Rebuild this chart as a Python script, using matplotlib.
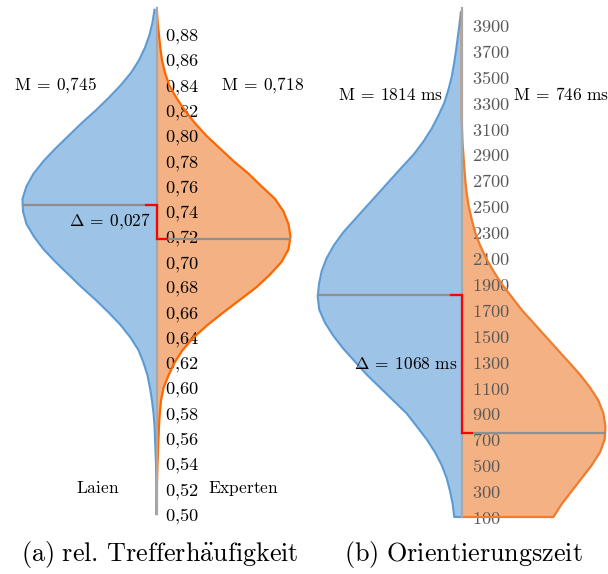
import numpy as np
import matplotlib
matplotlib.use("Agg")
import matplotlib.pyplot as plt
from matplotlib.ticker import FuncFormatter

plt.rcParams['mathtext.fontset'] = 'cm'

# ---------------- data: panel (a) rel. Trefferhäufigkeit ----------------
a_values = np.round(np.arange(0.50, 0.9001, 0.01), 2)
a_laien = [0, 0, 0.1, 0.3, 0.5, 1, 1.5, 2, 3, 4.5, 6.5, 9, 13, 18, 26, 36, 48, 61, 75, 88,
           101, 113, 122.5, 130, 133.5, 134, 130, 123, 113, 101, 88, 75, 61, 48, 36, 25.5,
           17.5, 11.5, 7, 4, 2]
a_experten = [0, 0.1, 0.3, 0.6, 1, 1.5, 2, 2.5, 3.3, 4.5, 7, 12, 18, 26, 37, 51, 67, 83.5,
              100, 113.5, 125, 132, 134, 132, 127, 118.5, 105, 92, 77, 63.5, 50, 38.5, 28.5,
              20, 12.8, 8.5, 5.5, 3.8, 2.5, 1.2, 0.3]
a_mean_laien = 0.745
a_mean_experten = 0.718
a_ticks = np.round(np.arange(0.50, 0.8801, 0.02), 2)

# ---------------- data: panel (b) Orientierungszeit ----------------
b_values = np.arange(100, 4001, 100)
b_laien = [7.4, 9, 11.7, 15, 20, 26.7, 35, 45, 55, 68.4, 81.7, 95, 106.7, 118.4, 128.4,
           136.7, 142.4, 144, 142.7, 140, 135, 127.7, 118.3, 106.7, 95, 83.3, 71.7, 60, 48,
           38.3, 30, 23.3, 17.3, 13.3, 10, 7.7, 5.7, 4, 2.3, 0.8]
b_experten = [91.7, 100, 110, 120, 130, 138.3, 143, 143.7, 141.7, 136.7, 128.3, 118.3, 106.7,
              95, 83.3, 71.7, 60, 50, 40, 31.7, 24.3, 18.3, 13.3, 10, 7, 5, 3.6, 2.6, 1.7,
              0.8, 0.3, 0, 0, 0, 0, 0, 0, 0, 0, 0]
b_mean_laien = 1814
b_mean_experten = 746
b_ticks = np.arange(100, 3901, 200)

BLUE_FILL, BLUE_EDGE = '#9dc3e6', '#5b9bd5'
ORANGE_FILL = '#f4b183'
GRAY_MEAN, GRAY_AXIS = '#8f8f8f', '#a8a8a8'

W, H = 608, 574
fig = plt.figure(figsize=(W / 100, H / 100), dpi=100)


def rect(x0, x1, y0, y1):
    return [x0 / W, 1 - y1 / H, (x1 - x0) / W, (y1 - y0) / H]


def draw_panel(ax, y, laien, experten, m_l, m_e, orange_edge, ticks, fmt, tick_color,
               pad, ybounds):
    y = np.asarray(y, dtype=float)
    laien = np.asarray(laien, dtype=float)
    experten = np.asarray(experten, dtype=float)
    ax.fill_betweenx(y, -laien, 0, color=BLUE_FILL, lw=0, zorder=1)
    ax.fill_betweenx(y, 0, experten, color=ORANGE_FILL, lw=0, zorder=1)
    ax.plot(np.r_[0, -laien], np.r_[y[0], y], color=BLUE_EDGE, lw=1.5, zorder=2,
            solid_joinstyle='round')
    ax.plot(np.r_[0, experten], np.r_[y[0], y], color=orange_edge, lw=1.6, zorder=2,
            solid_joinstyle='round')
    # mean lines
    wl = np.interp(m_l, y, laien)
    we = np.interp(m_e, y, experten)
    ax.plot([-wl, 0], [m_l, m_l], color=GRAY_MEAN, lw=1.6, zorder=3)
    ax.plot([0, we], [m_e, m_e], color=GRAY_MEAN, lw=1.6, zorder=3)
    # difference bracket
    ax.plot([-10.5, 0, 0, 10], [m_l, m_l, m_e, m_e], color='#ff0000', lw=1.6, zorder=4,
            solid_joinstyle='miter')
    # central axis with tick labels
    for s in ['left', 'top', 'bottom']:
        ax.spines[s].set_visible(False)
    sp = ax.spines['right']
    sp.set_position(('data', 0))
    sp.set_bounds(*ybounds)
    sp.set_color(GRAY_AXIS)
    sp.set_linewidth(1.6)
    sp.set_zorder(2.6)
    ax.yaxis.tick_right()
    ax.set_yticks(ticks)
    ax.yaxis.set_major_formatter(FuncFormatter(fmt))
    ax.tick_params(axis='y', length=0, pad=pad, labelsize=13.2, labelcolor=tick_color)
    ax.set_xticks([])
    ax.patch.set_visible(False)


# panel (a)
axa = fig.add_axes(rect(0, 304, 0, 530))
axa.set_xlim(-156.5, 147.5)
axa.set_ylim(0.48731, 0.90778)
draw_panel(axa, a_values, a_laien, a_experten, a_mean_laien, a_mean_experten, '#ff6600',
           a_ticks, lambda v, p: r'$%s$' % ('%.2f' % v).replace('.', '{,}'), 'black', 6.4,
           (0.50, 0.9014))
tk = dict(fontsize=12.5, va='center', clip_on=False)
axa.text(-101.5, 0.8396, r'$\mathrm{M}\:=\:0{,}745$', ha='center', **tk)
axa.text(106.5, 0.8396, r'$\mathrm{M}\:=\:0{,}718$', ha='center', **tk)
axa.text(-5.5, (a_mean_laien + a_mean_experten) / 2, r'$\Delta\:=\:0{,}027$', ha='right', **tk)
axa.text(-58.5, 0.5206, r'$\mathrm{Laien}$', ha='center', **tk)
axa.text(86.5, 0.5206, r'$\mathrm{Experten}$', ha='center', **tk)

# panel (b)
axb = fig.add_axes(rect(304, 608, 0, 530))
axb.set_xlim(-157.7, 146.3)
axb.set_ylim(-0.4, 4093.2)
draw_panel(axb, b_values, b_laien, b_experten, b_mean_laien, b_mean_experten, '#ed7d31',
           b_ticks, lambda v, p: r'$%d$' % v, '#5a5a5a', 7.6, (100, 4030))
axb.text(-71.2, 3359, r'$\mathrm{M}\:=\:1814\ \mathrm{ms}$', ha='center', **tk)
axb.text(51.3, 3359, r'$\mathrm{M}\:=\:746\ \mathrm{ms}$', ha='left', **tk)
axb.text(-4.7, (b_mean_laien + b_mean_experten) / 2, r'$\Delta\:=\:1068\ \mathrm{ms}$',
         ha='right', **tk)

# captions
cap = dict(fontsize=18.8, ha='center', va='center')
fig.text(160 / W, 1 - 554 / H, r'$\mathrm{(a)\ rel.\,Trefferh\ddot{a}ufigkeit}$', **cap)
fig.text(463 / W, 1 - 554 / H, r'$\mathrm{(b)\ Orientierungszeit}$', **cap)

fig.savefig('out.png', dpi=100)
